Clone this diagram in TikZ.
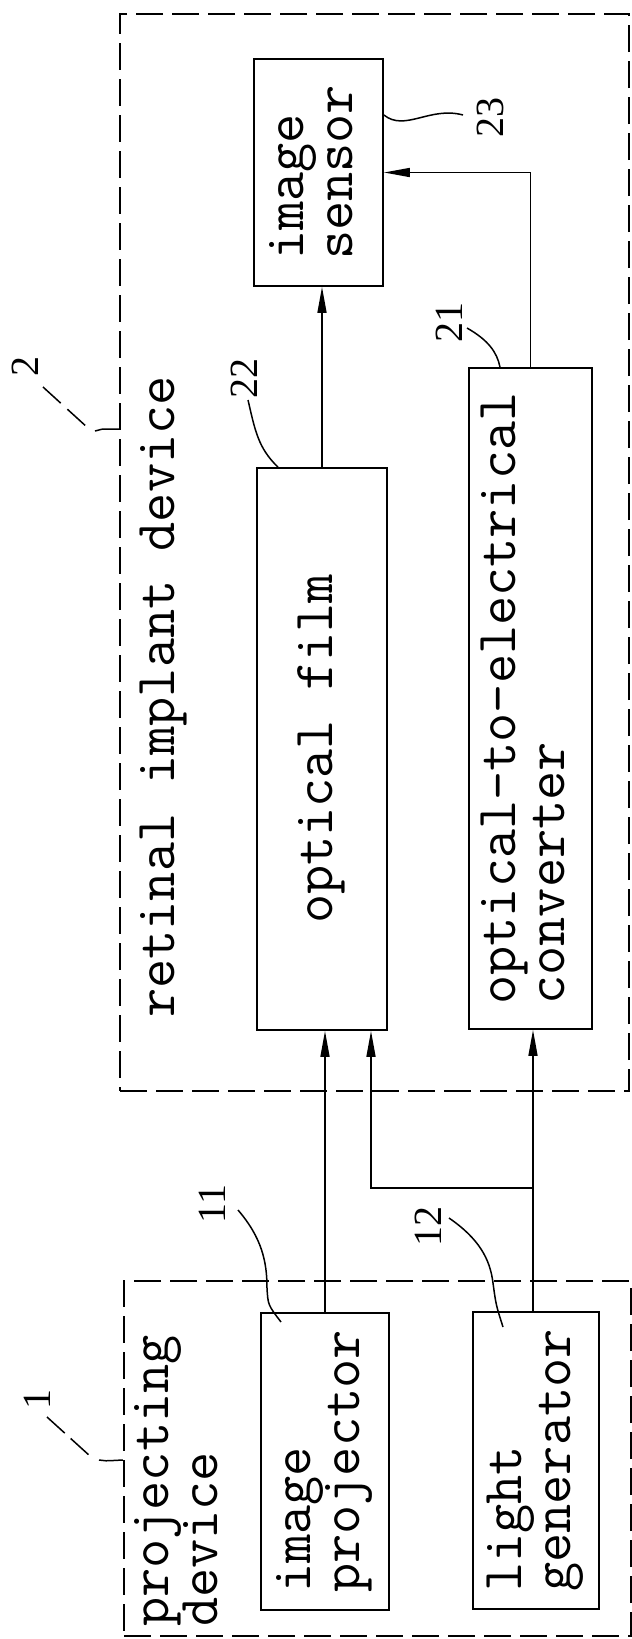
\documentclass[tikz,border=0pt]{standalone}
\usepackage{fontspec}
\setmainfont{Liberation Serif}
\usetikzlibrary{arrows.meta}
\newcommand{\vlines}[1]{\rotatebox{90}{\begin{tabular}{@{}l@{}}#1\end{tabular}}}

\begin{document}
\begin{tikzpicture}[x=1pt,y=-1pt,
  tt/.style={font=\ttfamily\fontsize{56.6}{49}\selectfont},
  b/.style={draw,line width=1.8pt,inner sep=0pt,tt},
  grp/.style={draw,line width=2.4pt,dash pattern=on 27pt off 9pt,inner sep=0pt},
  num/.style={rotate=90,inner sep=0pt,font=\fontsize{40}{40}\selectfont},
  ld/.style={line width=1.5pt},
  >={Triangle[length=26pt,width=9pt]}]
\useasboundingbox (0,0) rectangle (632,1639);
% dashed groups
\node[grp,minimum width=509,minimum height=1077] (implant) at (374.5,552.5) {};
\node[grp,minimum width=507,minimum height=355] (projdev) at (377.5,1458.5) {};
\node[tt,rotate=90,inner sep=0pt] (implantlbl) at (163,697) {retinal implant device};
\node[tt,rotate=90,anchor=west,align=left,inner sep=0pt] (projlbl) at (176,1627) {projecting\\device};
% blocks
\node[b,minimum width=129,minimum height=227] (sensor) at (318.5,172.5) {\vlines{image\\sensor}};
\node[b,minimum width=130,minimum height=562] (film) at (322,749) {\vlines{optical film}};
\node[b,minimum width=123,minimum height=661] (conv) at (530.5,698.5) {\vlines{optical-to-electrical\\converter}};
\node[b,minimum width=128,minimum height=297] (proj) at (325,1461.5) {\vlines{image\\projector}};
\node[b,minimum width=126,minimum height=297] (light) at (536,1460.5) {\vlines{light\\generator}};
% connectors
\coordinate (j) at (533,1188);
\draw[line width=1.6pt,->] (film.north) -- (film.north |- sensor.south);
\draw[line width=1.6pt,->] (conv.north) |- (sensor.east);
\draw[line width=1.6pt,->] (proj.north) -- (proj.north |- film.south);
\draw[line width=1.6pt] (light.north -| j) -- (j);
\draw[line width=1.6pt,->] (j) -- (j |- conv.south);
\draw[line width=1.6pt,->] (j) -| ([xshift=49pt]film.south);
% reference numerals
\node[num] (n23) at (490,117) {23};
\coordinate (e23) at (463,115);
\draw[ld] (e23) .. controls (430,106) and (405,132) .. (sensor.east |- e23);
\node[num] (n21) at (449,322) {21};
\coordinate (e21) at (467,328);
\draw[ld] (e21) .. controls (488,340) and (497,352) .. (conv.north -| 500,0);
\node[num] (n22) at (244,378) {22};
\coordinate (e22) at (248,400);
\draw[ld] (e22) .. controls (255,430) and (258,448) .. (film.north -| 278,0);
\node[num] (n11) at (212,1204) {11};
\coordinate (e11) at (238,1210);
\draw[ld] (e11) .. controls (262,1238) and (267,1262) .. (267,1288) .. controls (268,1305) .. (281,1322);
\node[num] (n12) at (428,1226) {12};
\coordinate (e12) at (449,1218);
\draw[ld] (e12) .. controls (478,1238) and (490,1258) .. (493,1283) .. controls (496,1305) .. (503,1327);
\node[num] (n2) at (25,366) {2};
\draw[ld,dash pattern=on 24pt off 9pt] (43,387) -- (88,428);
\draw[ld] (95,431) .. controls (100,429) .. (implant.west |- 0,429);
\node[num] (n1) at (37,1399) {1};
\draw[ld,dash pattern=on 24pt off 8pt] (47,1417) -- (90,1456);
\draw[ld] (99,1460) .. controls (104,1461) .. (projdev.west |- 0,1460);
\end{tikzpicture}
\end{document}
